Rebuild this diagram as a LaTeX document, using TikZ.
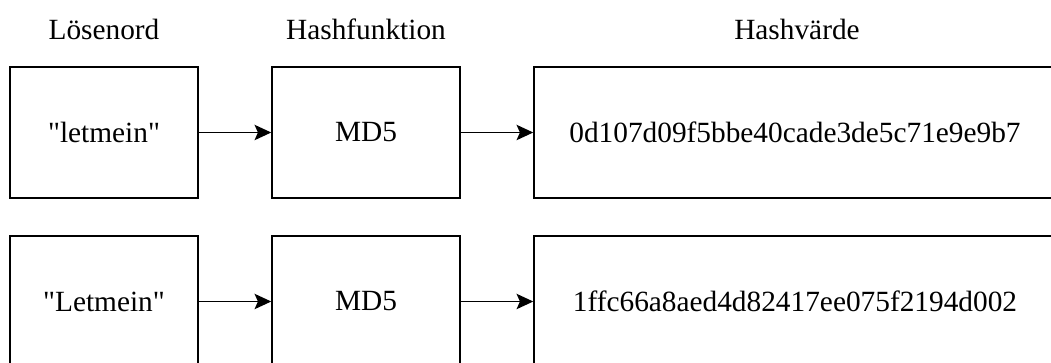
\documentclass[tikz,border=0pt]{standalone}
\usepackage{fontspec}
\setmainfont[Ligatures=TeXOff]{Liberation Serif}
\usetikzlibrary{arrows.meta}
\begin{document}
\begin{tikzpicture}[x=0.75pt,y=-0.75pt,
  box/.style={draw=black,line width=1.1pt,rectangle,inner sep=0pt,minimum height=98.25pt,font=\fontsize{22}{26}\selectfont},
  small/.style={box,minimum width=141pt},
  wide/.style={box,minimum width=391.5pt},
  head/.style={anchor=base,inner sep=0pt,font=\fontsize{22}{26}\selectfont},
  conn/.style={line width=1.1pt,-{Stealth[length=12.5pt,width=11.5pt,inset=2.5pt]}}]
\useasboundingbox (0,0) rectangle (1051,362);
\clip (0,0) rectangle (1051,362);
\node[head] (t1) at (104,39) {Lösenord};
\node[head] (t2) at (366,39) {Hashfunktion};
\node[head] (t3) at (797,39) {Hashvärde};
\node[small] (p1) at (104,132.5) {"letmein"};
\node[small] (h1) at (366,132.5) {MD5};
\node[wide] (v1) at (795,132.5) {0d107d09f5bbe40cade3de5c71e9e9b7};
\node[small] (p2) at (104,301.5) {"Letmein"};
\node[small] (h2) at (366,301.5) {MD5};
\node[wide] (v2) at (795,301.5) {1ffc66a8aed4d82417ee075f2194d002};
\draw[conn] (p1) -- (h1);
\draw[conn] (h1) -- (v1);
\draw[conn] (p2) -- (h2);
\draw[conn] (h2) -- (v2);
\end{tikzpicture}
\end{document}
